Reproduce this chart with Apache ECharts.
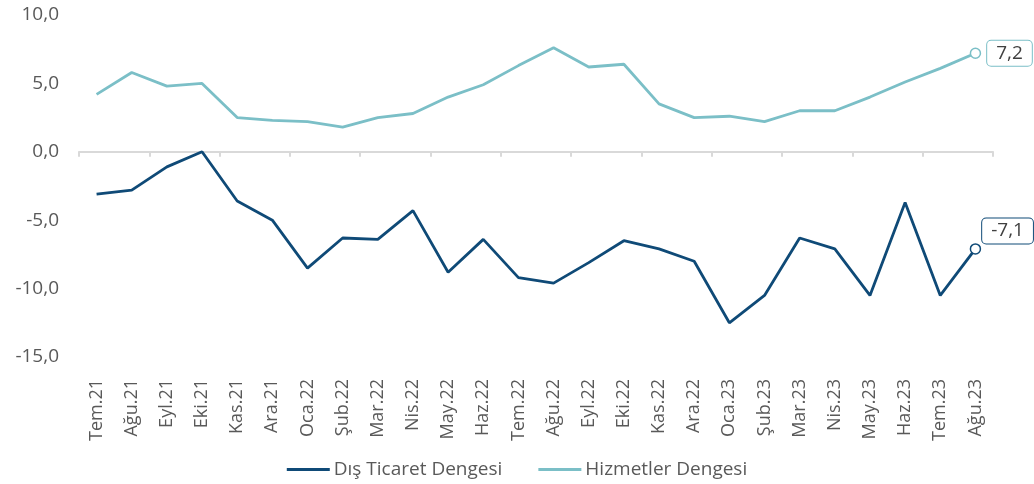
<!DOCTYPE html>
<html>
<head>
<meta charset="utf-8">
<script src="https://cdn.jsdelivr.net/npm/echarts@6/dist/echarts.min.js"></script>
<style>
  html, body { margin: 0; padding: 0; background: #fff; }
  #chart { width: 1034px; height: 484px; }
</style>
</head>
<body>
<div id="chart"></div>
<script>
const months = [
  "Tem.21", "Ağu.21", "Eyl.21", "Eki.21", "Kas.21", "Ara.21",
  "Oca.22", "Şub.22", "Mar.22", "Nis.22", "May.22", "Haz.22",
  "Tem.22", "Ağu.22", "Eyl.22", "Eki.22", "Kas.22", "Ara.22",
  "Oca.23", "Şub.23", "Mar.23", "Nis.23", "May.23", "Haz.23",
  "Tem.23", "Ağu.23"
];
const disTicaret = [
  -3.1, -2.8, -1.1, 0.0, -3.6, -5.0,
  -8.5, -6.3, -6.4, -4.3, -8.8, -6.4,
  -9.2, -9.6, -8.1, -6.5, -7.1, -8.0,
  -12.5, -10.5, -6.3, -7.1, -10.5, -3.7,
  -10.5, -7.1
];
const hizmetler = [
  4.2, 5.8, 4.8, 5.0, 2.5, 2.3,
  2.2, 1.8, 2.5, 2.8, 4.0, 4.9,
  6.3, 7.6, 6.2, 6.4, 3.5, 2.5,
  2.6, 2.2, 3.0, 3.0, 4.0, 5.1,
  6.1, 7.2
];
const yTicks = { min: -15, max: 10, step: 5 };

const navy = "#0f4a77";
const teal = "#7bbfc7";
const grey = "#595959";
const font = "Open Sans";

function fmt(v) {
  return v.toFixed(1).replace(".", ",");
}

// last point gets a hollow marker and a boxed value label
function withEndLabel(values, color, distance, dy) {
  const last = values.length - 1;
  return values.map(function (v, i) {
    if (i !== last) return v;
    return {
      value: v,
      symbol: "circle",
      symbolSize: 10,
      itemStyle: { color: "#fff", borderColor: color, borderWidth: 1.5 },
      label: {
        show: true,
        position: "right",
        distance: distance,
        offset: [0, dy],
        formatter: function (p) { return fmt(p.value); },
        color: "#404040",
        fontFamily: font,
        fontSize: 19,
        lineHeight: 21,
        backgroundColor: "#fff",
        borderColor: color,
        borderWidth: 1,
        borderRadius: 4,
        padding: [2, 9, 2, 9]
      }
    };
  });
}

const chart = echarts.init(document.getElementById("chart"));

chart.setOption({
  animation: false,
  backgroundColor: "#fff",
  textStyle: { fontFamily: font },
  grid: { left: 79, right: 41, top: 15, bottom: 127 },
  legend: {
    bottom: 0,
    left: "center",
    icon: "rect",
    itemWidth: 43,
    itemHeight: 3,
    itemGap: 36,
    textStyle: { color: grey, fontSize: 19, fontFamily: font, padding: [0, 0, 0, -1] },
    data: ["Dış Ticaret Dengesi", "Hizmetler Dengesi"]
  },
  xAxis: [
    {
      type: "category",
      data: months,
      position: "bottom",
      axisLine: { show: false, onZero: false },
      axisTick: { show: false },
      axisLabel: {
        rotate: 90,
        margin: 22,
        color: grey,
        fontSize: 18,
        fontFamily: font
      }
    },
    {
      type: "category",
      data: months,
      position: "bottom",
      axisLine: { show: true, onZero: true, lineStyle: { color: "#d9d9d9", width: 2 } },
      axisTick: { show: true, length: 5, lineStyle: { color: "#d9d9d9", width: 2 } },
      axisLabel: { show: false }
    }
  ],
  yAxis: {
    type: "value",
    min: yTicks.min,
    max: yTicks.max,
    interval: yTicks.step,
    axisLine: { show: false },
    axisTick: { show: false },
    splitLine: { show: false },
    axisLabel: {
      margin: 20,
      color: grey,
      fontSize: 19,
      fontFamily: font,
      formatter: fmt
    }
  },
  series: [
    {
      name: "Dış Ticaret Dengesi",
      type: "line",
      xAxisIndex: 0,
      symbol: "none",
      color: navy,
      lineStyle: { color: navy, width: 2.8 },
      data: withEndLabel(disTicaret, navy, 1, -18)
    },
    {
      name: "Hizmetler Dengesi",
      type: "line",
      xAxisIndex: 0,
      symbol: "none",
      color: teal,
      lineStyle: { color: teal, width: 2.8 },
      data: withEndLabel(hizmetler, teal, 6, 0)
    }
  ]
});
</script>
</body>
</html>
